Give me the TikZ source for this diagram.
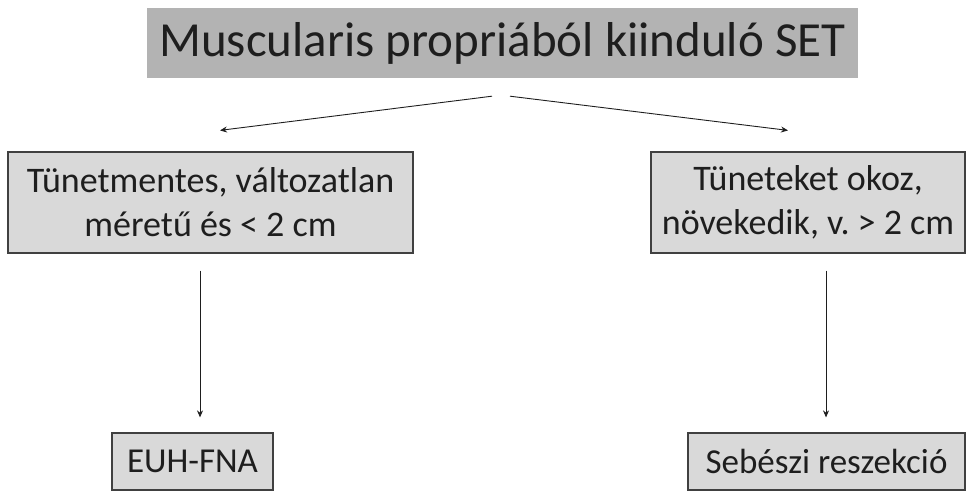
\documentclass[tikz,border=0pt]{standalone}
\usepackage{fontspec}
\setmainfont{Carlito}
\usetikzlibrary{arrows.meta}
\definecolor{headgray}{HTML}{B3B3B3}
\definecolor{boxgray}{HTML}{D9D9D9}
\definecolor{rimgray}{HTML}{404040}
\definecolor{inkgray}{HTML}{1E1E1E}
\tikzset{
  headbox/.style={fill=headgray,text=inkgray,minimum width=711pt,minimum height=70pt,
    inner sep=0pt,font=\fontsize{49}{56}\selectfont},
  casebox/.style={fill=boxgray,draw=rimgray,line width=1.2pt,text=inkgray,inner sep=0pt,
    align=center,font=\fontsize{36}{44}\selectfont},
  arr/.style={-{Stealth[length=7pt,width=6pt]},draw=inkgray,line width=0.9pt}
}
\begin{document}
\begin{tikzpicture}[x=1pt,y=1pt]
\useasboundingbox (0,0) rectangle (967,492);
\node[headbox] (set) at (502.5,449) {Muscularis propriából kiinduló SET};
\node[casebox,minimum width=405pt,minimum height=101pt] (tun) at (210.5,289.5)
  {Tünetmentes, változatlan\\méretű és < 2 cm};
\node[casebox,minimum width=314pt,minimum height=101pt] (tok) at (808,289.5)
  {Tüneteket okoz,\\növekedik, v.\ > 2 cm};
\node[casebox,minimum width=161pt,minimum height=57pt,font=\fontsize{35}{42}\selectfont] (euh) at (192.5,30.5) {EUH-FNA};
\node[casebox,minimum width=277pt,minimum height=57pt,font=\fontsize{35}{42}\selectfont] (seb) at (826.5,30.5) {Sebészi reszekció};
% elagazas
\draw[arr] ([xshift=-10.5pt,yshift=-18pt]set.south) -- ([xshift=9.5pt,yshift=21pt]tun.north);
\draw[arr] ([xshift=7.5pt,yshift=-18pt]set.south) -- ([xshift=-20pt,yshift=21pt]tok.north);
% kezeles
\draw[arr] ([xshift=-10.5pt,yshift=-17pt]tun.south) -- ([xshift=7.5pt,yshift=15pt]euh.north);
\draw[arr] ([xshift=18pt,yshift=-17pt]tok.south) -- ([xshift=-0.5pt,yshift=15pt]seb.north);
\end{tikzpicture}
\end{document}
